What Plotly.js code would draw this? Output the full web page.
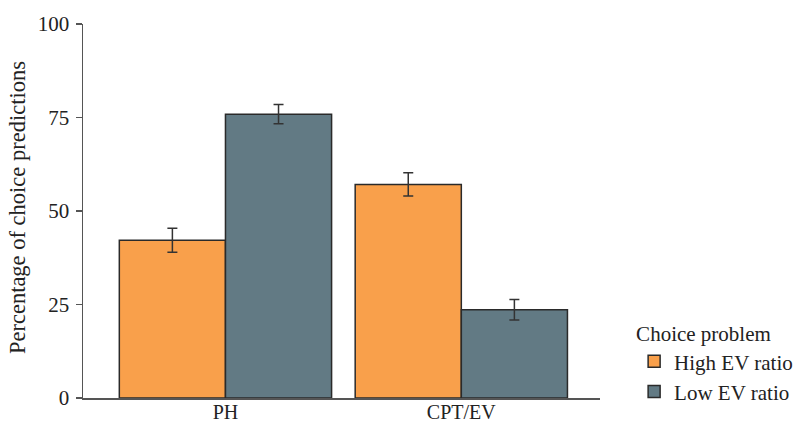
<!DOCTYPE html>
<html>
<head>
<meta charset="utf-8">
<script src="https://cdn.plot.ly/plotly-3.0.1.min.js"></script>
<style>html,body{margin:0;padding:0;background:#fff;}#chart{width:798px;height:424px;}</style>
</head>
<body>
<div id="chart"></div>
<script>
const categories = ["PH", "CPT/EV"];
const highEV = [42.2, 57.1];
const highEVErr = [3.2, 3.1];
const lowEV = [75.9, 23.6];
const lowEVErr = [2.6, 2.75];
const seriesNames = ["High EV ratio", "Low EV ratio"];
const yTicks = [0, 25, 50, 75, 100];
const yTitle = "Percentage of choice predictions";
const legendTitle = "Choice problem";

const font = "Liberation Serif, Times New Roman, serif";
const errStyle = {type: "data", visible: true, color: "#333333", thickness: 1.5, width: 5};

const traces = [
  {type: "bar", name: seriesNames[0], x: categories, y: highEV,
   error_y: Object.assign({array: highEVErr}, errStyle),
   marker: {color: "#F9A04B", line: {color: "#2a2a2a", width: 1.5}}},
  {type: "bar", name: seriesNames[1], x: categories, y: lowEV,
   error_y: Object.assign({array: lowEVErr}, errStyle),
   marker: {color: "#627A84", line: {color: "#2a2a2a", width: 1.5}}}
];

const layout = {
  width: 798, height: 424,
  margin: {l: 83, r: 198, t: 23.5, b: 25.5, autoexpand: false},
  paper_bgcolor: "#fff", plot_bgcolor: "#fff",
  font: {family: font, size: 20, color: "#222"},
  barmode: "group", bargap: 0.1, bargroupgap: 0,
  xaxis: {type: "category", range: [-0.604, 1.588], automargin: false, showline: true, linecolor: "#555", linewidth: 1.5,
          ticks: "", showgrid: false, zeroline: false, ticklabelstandoff: -5,
          tickfont: {size: 20, family: font, color: "#222"}},
  yaxis: {range: [0, 100], tickvals: yTicks, automargin: false, showline: true, linecolor: "#555", linewidth: 1.5,
          ticks: "outside", ticklen: 6, tickcolor: "#555", tickwidth: 1.5, showgrid: false, zeroline: false,
          ticklabelstandoff: 2, tickfont: {size: 21, family: font, color: "#222"}},
  annotations: [{text: yTitle, xref: "paper", yref: "paper", x: -0.128, y: 0.51, xanchor: "center", yanchor: "middle",
                 textangle: -90, showarrow: false, font: {size: 22.5, family: font, color: "#222"}}],
  showlegend: true,
  legend: {x: 1.066, xanchor: "left", y: 0.225, yanchor: "top",
           title: {text: legendTitle, font: {size: 21, family: font, color: "#222"}},
           font: {size: 21, family: font, color: "#222"}, bgcolor: "rgba(0,0,0,0)", itemwidth: 30, tracegroupgap: 0}
};

Plotly.newPlot("chart", traces, layout, {displayModeBar: false, staticPlot: true});
</script>
</body>
</html>
